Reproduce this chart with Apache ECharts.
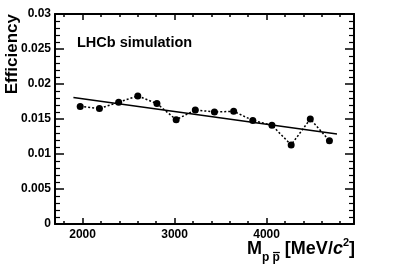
<!DOCTYPE html>
<html><head><meta charset="utf-8">
<script src="https://cdn.jsdelivr.net/npm/echarts@6/dist/echarts.min.js"></script>
<style>html,body{margin:0;padding:0;background:#fff}#c{width:394px;height:267px}</style>
</head><body><div id="c"></div>
<script>
var massValues = [1974, 2183, 2392, 2600, 2808, 3017, 3225, 3433, 3642, 3850, 4058, 4267, 4475, 4683];
var efficiency = [0.0168, 0.0165, 0.0174, 0.0183, 0.0172, 0.0149, 0.0163, 0.0160, 0.0161, 0.0148, 0.0141, 0.0113, 0.0150, 0.0119];
var fitMass = [1900, 4765];
var fitEff = [0.01806, 0.01285];
var xMajorTicks = [2000, 3000, 4000];
var xMinorTicks = [1800, 2200, 2400, 2600, 2800, 3200, 3400, 3600, 3800, 4200, 4400, 4600, 4800];

var FONT = 'Liberation Sans, Arial, Helvetica, sans-serif';
var chart = echarts.init(document.getElementById('c'), null, {renderer: 'canvas'});
var grid = {left: 55, right: 40, top: 14, bottom: 43, containLabel: false};
function xAx(pos, ticks, len, showLabel, showLine) {
  return {
    type: 'value', position: pos, min: 1700, max: 4950,
    axisLine: {show: showLine, onZero: false, lineStyle: {color: '#000', width: 2}},
    axisTick: {show: true, inside: true, length: len, customValues: ticks, lineStyle: {color: '#000', width: 1.5}},
    axisLabel: {show: showLabel, customValues: ticks, color: '#000', fontWeight: 'bold', fontSize: 12, fontFamily: FONT, margin: 5,
                formatter: function (v) { return String(v); }},
    splitLine: {show: false}
  };
}
function yAx(pos, showLabel) {
  return {
    type: 'value', position: pos, min: 0, max: 0.03, interval: 0.005,
    axisLine: {show: true, onZero: false, lineStyle: {color: '#000', width: 2}},
    axisTick: {show: true, inside: true, length: 9, lineStyle: {color: '#000', width: 1.5}},
    minorTick: {show: true, splitNumber: 5, length: 5, lineStyle: {color: '#000', width: 1.2}},
    axisLabel: {show: showLabel, color: '#000', fontWeight: 'bold', fontSize: 12, fontFamily: FONT, margin: 4,
                formatter: function (v) { return String(+v.toFixed(4)); }},
    splitLine: {show: false}, minorSplitLine: {show: false}
  };
}

// lay out the x-axis title pieces by measuring text widths
var ctx = document.createElement('canvas').getContext('2d');
function w(txt, font) { ctx.font = font; return ctx.measureText(txt).width; }
var big = 'bold 18px ' + FONT, bigI = 'italic bold 18px ' + FONT, sub = 'bold 12px ' + FONT, sup = 'bold 11px ' + FONT;
var pieces = [
  {t: 'M', f: big, dy: 0},
  {t: 'p p', f: sub, dy: 9, over: true},
  {t: ' [MeV/', f: big, dy: 0},
  {t: 'c', f: bigI, dy: 0},
  {t: '2', f: sup, dy: -6},
  {t: ']', f: big, dy: 0}
];
var total = 0;
pieces.forEach(function (p) { p.w = w(p.t, p.f); total += p.w; });
var xCur = 355 - total, baseY = 249;
var titleGraphics = [];
pieces.forEach(function (p) {
  titleGraphics.push({type: 'text', x: xCur, y: baseY + p.dy,
    style: {text: p.t, font: p.f, fill: '#000', align: 'left', verticalAlign: 'middle'}});
  if (p.over) {
    var pw = w('p', p.f), x0 = xCur + p.w - pw;
    titleGraphics.push({type: 'line', shape: {x1: x0 + 0.5, y1: baseY + p.dy - 5.5, x2: x0 + pw, y2: baseY + p.dy - 5.5},
      style: {stroke: '#000', lineWidth: 1.2}});
  }
  xCur += p.w;
});

chart.setOption({
  animation: false,
  backgroundColor: '#fff',
  grid: grid,
  xAxis: [
    xAx('bottom', xMajorTicks, 6, true, true),
    xAx('bottom', xMinorTicks, 3, false, false),
    xAx('top', xMajorTicks, 6, false, true),
    xAx('top', xMinorTicks, 3, false, false)
  ],
  yAxis: [yAx('left', true), yAx('right', false)],
  series: [
    {
      type: 'line', xAxisIndex: 0, yAxisIndex: 0,
      data: massValues.map(function (m, i) { return [m, efficiency[i]]; }),
      symbol: 'circle', symbolSize: 7,
      itemStyle: {color: '#000'},
      lineStyle: {color: '#000', width: 1.5, type: [2, 2]}
    },
    {
      type: 'line', xAxisIndex: 0, yAxisIndex: 0,
      data: fitMass.map(function (m, i) { return [m, fitEff[i]]; }),
      symbol: 'none', lineStyle: {color: '#000', width: 1.6}
    }
  ],
  graphic: [
    {type: 'text', x: 12, y: 14, rotation: Math.PI / 2,
     style: {text: 'Efficiency', font: 'bold 17px ' + FONT, fill: '#000', align: 'right', verticalAlign: 'middle'}},
    {type: 'text', x: 77, y: 43,
     style: {text: 'LHCb simulation', font: 'bold 14.5px ' + FONT, fill: '#000', align: 'left', verticalAlign: 'middle'}}
  ].concat(titleGraphics)
});
</script></body></html>
